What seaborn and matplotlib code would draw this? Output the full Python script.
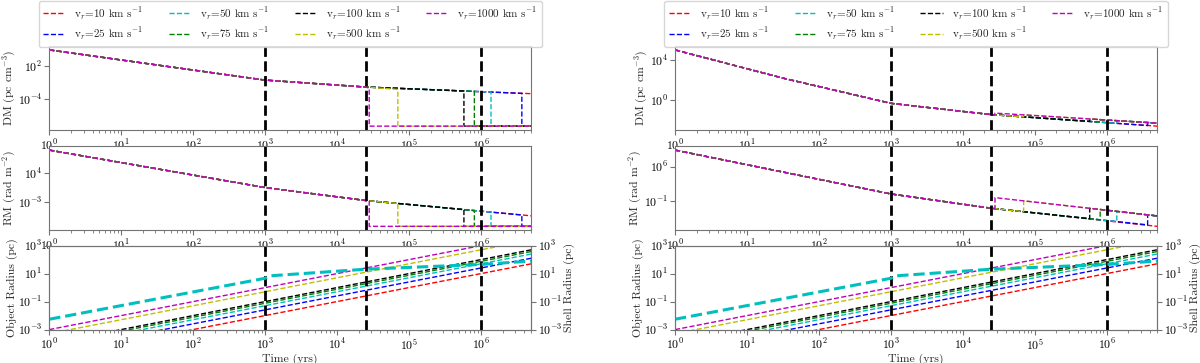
import numpy as np
import pandas as pd
import matplotlib
matplotlib.use('Agg')
import matplotlib.pyplot as plt
import seaborn as sns

# velocities of the object and their colours
vel = [10, 25, 50, 75, 100, 500, 1000]
cols = ['r', 'b', 'c', 'g', 'k', 'y', 'm']
labels = [r'v$_r$=%d km s$^{-1}$' % v for v in vel]

t_end = 5e6
t_phase = [1e3, 2.5e4, 1e6]          # dashed black lines
# time the object leaves the shell (None = never)
t_exit = [None, 3.7e6, 1.38e6, 8.1e5, 5.8e5, 7.0e4, 2.8e4]

# ---- left figure: DM / RM drop to a floor after the exit
t_early_a = [1, 1e3, 2.5e4]
dm_early_a = [8.7e4, 0.30, 1.66e-2]
rm_early_a = [3.7e9, 3.8, 3.0e-3]
dm_exit_a = [None, 1.2e-3, 2.1e-3, 2.7e-3, 3.2e-3, 6.2e-3, 1.0e-2]
rm_exit_a = [None, 1.0e-6, 5.0e-6, 1.15e-5, 2.0e-5, 5.8e-4, 2.5e-3]
dm_end_a = 1.05e-3
rm_end_a = 6.3e-7
dm_floor_a = 1.4e-9
rm_floor_a = 1.9e-9

# ---- right figure: DM / RM jump up to an upper track after the exit
t_dm_b = [1, 32, 1e3, 2.5e4]
dm_early_b = [1.0e5, 150, 0.47, 3.5e-2]
t_rm_b = [1, 1e3, 2.5e4]
rm_early_b = [2.5e9, 2.7, 3.2e-3]
dm_exit_b = [None, 2.9e-3, 4.8e-3, 6.3e-3, 7.4e-3, 2.1e-2, 3.35e-2]
dm_jump_b = [None, 5.7e-3, 8.9e-3, 1.1e-2, 1.3e-2, 3.4e-2, 5.0e-2]
rm_exit_b = [None, 1.3e-6, 6.0e-6, 1.4e-5, 2.3e-5, 6.5e-4, 2.9e-3]
rm_jump_b = [None, 1.5e-4, 7.4e-4, 1.8e-3, 3.2e-3, 0.107, 0.48]
dm_end_b = 2.5e-3
rm_end_b = 6.5e-7
dm_upper_end_b = 5.0e-3
rm_upper_end_b = 8.7e-5

# ---- radii (same in both figures)
t_obj = [1, 5e6]
obj_r0 = [1.0e-5, 2.6e-5, 5.1e-5, 7.7e-5, 1.0e-4, 5.1e-4, 1.0e-3]
obj_r1 = [51, 128, 256, 384, 511, 2560, 5110]
shell_t = [1, 1e3, 1.15e3, 2.5e4, 1e6, 5e6]
shell_r = [5.5e-3, 4.7, 7.0, 21, 46, 80]

sns.set_style('ticks')
plt.rcParams['font.family'] = ['cmr10', 'DejaVu Serif']
plt.rcParams['mathtext.fontset'] = 'cm'
plt.rcParams['axes.formatter.use_mathtext'] = True
plt.rcParams['axes.unicode_minus'] = True
plt.rcParams['axes.edgecolor'] = '0.45'
plt.rcParams['xtick.color'] = '0.45'
plt.rcParams['ytick.color'] = '0.45'
plt.rcParams['xtick.labelcolor'] = 'black'
plt.rcParams['ytick.labelcolor'] = 'black'
plt.rcParams['xtick.major.pad'] = 2
plt.rcParams['ytick.major.pad'] = 1.5
fs = 8.5
fs_leg = 8

fig = plt.figure(figsize=(12, 3.63), dpi=100)
col_x = [0.041, 0.5625]
row_y = [0.642, 0.366, 0.092]
w, h = 0.4017, 0.231


def track(t_early, early, i, exit_val, after, after_end, end_val):
    # one velocity: common early part, then exit jump (or straight to the end)
    if t_exit[i] is None:
        return list(t_early) + [t_end], list(early) + [end_val]
    return (list(t_early) + [t_exit[i], t_exit[i], t_end],
            list(early) + [exit_val[i], after, after_end])


def style(ax, yticks):
    ax.set_xscale('log')
    ax.set_yscale('log')
    ax.set_xlim(1, t_end)
    ax.set_yticks(yticks)
    ax.yaxis.set_minor_locator(matplotlib.ticker.NullLocator())
    ax.set_xticks([10.0 ** k for k in range(7)])
    ax.tick_params(labelsize=fs)
    for t in t_phase:
        ax.axvline(t, color='k', ls='--', lw=2)


for c in range(2):
    x0 = col_x[c]
    ax_dm = fig.add_axes([x0, row_y[0], w, h])
    ax_rm = fig.add_axes([x0, row_y[1], w, h])
    ax_r = fig.add_axes([x0, row_y[2], w, h])

    for i in range(len(vel)):
        if c == 0:
            t1, y1 = track(t_early_a, dm_early_a, i, dm_exit_a, dm_floor_a, dm_floor_a, dm_end_a)
            t2, y2 = track(t_early_a, rm_early_a, i, rm_exit_a, rm_floor_a, rm_floor_a, rm_end_a)
        else:
            j = dm_jump_b[i]
            t1, y1 = track(t_dm_b, dm_early_b, i, dm_exit_b, j, dm_upper_end_b, dm_end_b)
            j = rm_jump_b[i]
            t2, y2 = track(t_rm_b, rm_early_b, i, rm_exit_b, j, rm_upper_end_b, rm_end_b)
        sns.lineplot(x=t1, y=y1, ax=ax_dm, color=cols[i], ls='--', lw=1,
                     estimator=None, sort=False, label=labels[i])
        sns.lineplot(x=t2, y=y2, ax=ax_rm, color=cols[i], ls='--', lw=1,
                     estimator=None, sort=False)
        sns.lineplot(x=t_obj, y=[obj_r0[i], obj_r1[i]], ax=ax_r, color=cols[i],
                     ls='--', lw=1, estimator=None, sort=False)

    if c == 0:
        style(ax_dm, [1e2, 1e-4])
        style(ax_rm, [1e4, 1e-3])
    else:
        style(ax_dm, [1e4, 1e0])
        style(ax_rm, [1e6, 1e-1])
    style(ax_r, [1e-3, 1e-1, 1e1, 1e3])
    ax_r.set_ylim(1e-3, 1e3)

    ax_dm.set_ylabel(r'DM (pc cm$^{-3}$)', fontsize=fs, labelpad=0)
    ax_rm.set_ylabel(r'RM (rad m$^{-2}$)', fontsize=fs, labelpad=0)
    ax_r.set_ylabel('Object Radius (pc)', fontsize=fs, labelpad=0)
    ax_r.set_xlabel('Time (yrs)', fontsize=fs, labelpad=1)

    # shell radius on the right axis
    ax_s = ax_r.twinx()
    sns.lineplot(x=shell_t, y=shell_r, ax=ax_s, color='c', ls='--', lw=2.2,
                 estimator=None, sort=False)
    ax_s.set_yscale('log')
    ax_s.set_ylim(1e-3, 1e3)
    ax_s.set_yticks([1e-3, 1e-1, 1e1, 1e3])
    ax_s.yaxis.set_minor_locator(matplotlib.ticker.NullLocator())
    ax_s.tick_params(labelsize=fs)
    ax_s.set_ylabel('Shell Radius (pc)', fontsize=fs, labelpad=1)

    ax_dm.legend(ncol=4, fontsize=fs_leg, loc='lower center', bbox_to_anchor=(0.5, 0.99),
                 borderaxespad=0, labelspacing=0.4, columnspacing=2.3)

fig.savefig('out.png', dpi=100)
